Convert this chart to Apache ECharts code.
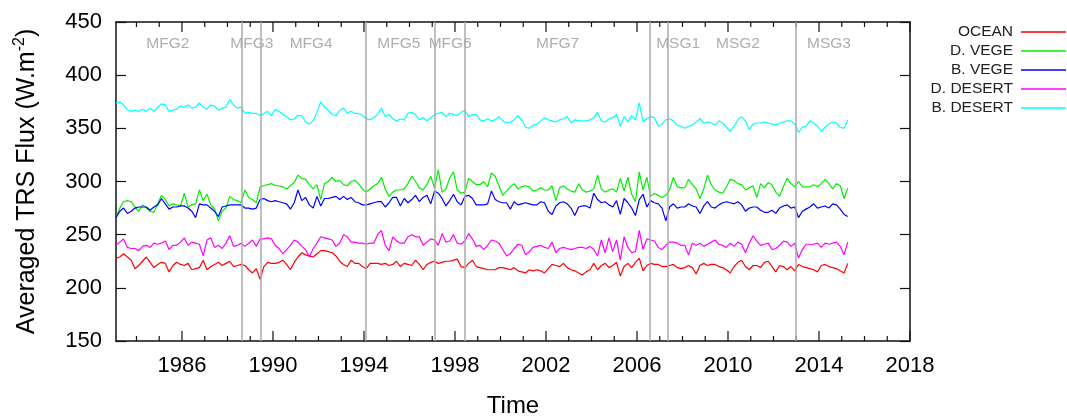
<!DOCTYPE html>
<html>
<head>
<meta charset="utf-8">
<script src="https://cdn.jsdelivr.net/npm/echarts@6/dist/echarts.min.js"></script>
<style>
  html, body { margin: 0; padding: 0; background: #ffffff; }
  #chart { width: 1067px; height: 416px; }
</style>
</head>
<body>
<div id="chart"></div>
<script>
// Time sampling: one value every two months, starting early 1983
const startYear = 1983.1;
const stepYears = 1 / 6;

const seriesNames = ['OCEAN', 'D. VEGE', 'B. VEGE', 'D. DESERT', 'B. DESERT'];

// Averaged TRS flux (W.m-2) per surface type
const ocean = [
  228,229,232,229,226,218,221,225,229,224,
  219,222,224,223,215,221,224,222,221,223,
  217,218,219,226,217,220,222,224,221,223,
  225,220,221,222,221,217,214,218,208,220,
  224,223,223,224,226,222,217,224,229,233,
  231,230,229,232,235,235,234,233,230,225,
  222,220,226,223,223,220,218,223,223,223,
  222,223,221,222,225,220,223,222,221,226,
  222,217,222,224,225,223,224,225,225,226,
  227,220,219,223,226,220,219,218,217,217,
  217,219,219,218,217,219,216,215,214,217,
  216,217,216,214,218,222,221,220,223,219,
  217,216,214,212,215,217,223,217,221,223,
  219,221,224,211,220,223,219,224,228,216,
  221,223,222,222,220,220,221,222,219,218,
  219,221,219,213,221,223,221,222,222,220,
  219,217,214,220,224,226,220,217,221,221,
  219,224,225,220,215,221,220,217,220,216,
  222,220,219,218,217,215,221,222,220,219,
  218,216,214,223
];

const denseVege = [
  266,275,281,282,281,276,272,278,275,272,
  271,279,287,283,277,279,278,277,289,276,
  278,279,292,282,288,278,274,263,272,275,
  286,283,282,280,292,285,283,280,295,296,
  297,298,296,296,295,293,296,299,306,303,
  302,297,293,297,283,298,300,304,300,301,
  297,296,300,301,298,293,290,293,296,298,
  304,293,286,290,292,292,293,298,305,300,
  294,292,297,305,294,311,290,293,303,309,
  292,289,290,303,300,297,297,300,295,308,
  305,296,287,291,295,298,293,295,296,295,
  291,292,294,292,292,296,282,294,296,293,
  291,290,298,292,290,291,293,306,293,290,
  292,293,290,303,291,304,288,281,309,292,
  304,286,289,287,285,287,292,304,295,294,
  294,302,297,293,284,293,306,297,292,290,
  289,295,302,301,298,297,292,294,296,285,
  298,294,299,297,290,286,295,303,298,295,
  300,295,295,295,297,295,298,302,298,293,
  298,296,284,294
];

const brightVege = [
  266,272,275,270,272,275,276,276,276,273,
  276,278,284,279,274,276,276,277,277,275,
  272,266,279,278,278,275,272,267,276,277,
  278,278,278,278,275,275,274,275,283,284,
  282,281,282,281,280,279,274,280,292,282,
  285,278,275,286,277,284,284,285,286,283,
  286,283,285,281,280,278,278,279,280,281,
  281,276,280,285,285,277,284,280,283,287,
  281,285,287,279,291,289,284,277,282,288,
  281,278,286,287,284,278,278,278,279,291,
  283,281,280,280,274,281,278,279,280,279,
  278,278,281,280,272,269,277,280,281,279,
  275,268,276,277,277,275,289,283,280,281,
  278,276,282,269,284,280,275,268,283,288,
  276,282,280,279,275,263,276,279,275,276,
  276,279,277,276,270,277,281,276,275,278,
  280,281,280,279,281,278,272,275,276,276,
  273,271,271,273,270,275,277,278,275,276,
  266,272,274,276,279,275,276,277,275,279,
  278,274,269,267
];

const denseDesert = [
  240,243,246,238,237,237,235,239,240,238,
  242,241,242,244,236,240,240,243,247,240,
  243,242,241,230,245,247,238,240,237,242,
  249,239,240,242,239,242,245,239,246,246,
  247,246,240,237,232,236,240,245,243,239,
  236,229,237,242,248,247,246,245,239,242,
  250,248,243,243,242,242,241,242,242,250,
  254,240,235,248,244,242,242,248,250,248,
  248,240,243,246,245,240,251,243,244,250,
  242,241,244,251,246,239,240,236,240,245,
  244,242,236,230,232,237,241,240,231,234,
  238,239,240,238,237,243,233,237,238,237,
  236,237,238,238,237,239,236,230,245,233,
  247,234,245,226,248,238,233,234,254,236,
  246,245,244,238,236,240,243,243,242,240,
  240,231,242,240,242,239,241,243,245,241,
  240,238,242,239,243,241,233,242,249,244,
  240,241,242,236,237,240,244,243,239,242,
  228,236,241,241,241,242,238,242,241,242,
  243,239,231,243
];

const brightDesert = [
  374,375,372,367,366,367,366,368,366,369,
  366,370,373,372,366,367,368,371,370,372,
  369,370,374,370,368,372,371,367,369,370,
  377,372,369,370,364,365,364,364,362,364,
  366,362,368,366,363,361,358,359,362,362,
  356,354,357,365,375,370,367,363,362,367,
  369,364,366,364,364,362,359,358,360,363,
  369,361,363,359,357,359,358,364,365,363,
  358,360,357,360,363,364,365,361,364,363,
  362,365,367,361,363,363,358,357,359,357,
  358,361,357,355,356,358,362,358,351,350,
  353,354,357,360,358,357,356,358,359,361,
  355,358,357,357,357,358,360,365,357,356,
  359,360,363,352,361,356,362,358,374,356,
  359,361,360,352,354,358,359,357,353,352,
  350,352,353,356,359,355,356,355,353,357,
  355,351,347,352,358,361,357,349,354,355,
  355,356,355,354,353,355,356,357,357,354,
  346,351,352,357,355,352,347,351,354,356,
  355,351,350,358
];

// Satellite periods and the dates where the instrument changes
const satellites = ['MFG2', 'MFG3', 'MFG4', 'MFG5', 'MFG6', 'MFG7', 'MSG1', 'MSG2', 'MSG3'];
const satelliteLabelYears = [1985.38, 1989.07, 1991.68, 1995.53, 1997.79, 2002.51, 2007.81, 2010.44, 2014.44];
const switchYears = [1988.64, 1989.48, 1994.08, 1997.12, 1998.42, 2006.56, 2007.34, 2013.0];

// Axis ticks: labelled years every 4 years, small ticks every year
const majorYearTicks = [1986, 1990, 1994, 1998, 2002, 2006, 2010, 2014, 2018];
const yearTicks = [];
for (let y = 1984; y <= 2018; y++) yearTicks.push(y);

const xMin = 1983.1, xMax = 2018;
const yMin = 150, yMax = 450;
const FONT = '"Liberation Sans", Arial, sans-serif';
const AXIS_COLOR = '#111';

function toPairs(values) {
  return values.map((v, i) => [startYear + i * stepYears, v]);
}

const seriesValues = [ocean, denseVege, brightVege, denseDesert, brightDesert];
const seriesColors = ['#ff0000', '#00ee00', '#0000ff', '#ff00ff', '#00ffff'];

function xAxisDef(position, withLabels) {
  return {
    type: 'value', min: xMin, max: xMax, position: position,
    axisLine: { show: true, onZero: false, lineStyle: { color: AXIS_COLOR, width: 1.5 } },
    axisTick: { show: false },
    axisLabel: withLabels ? {
      show: true, customValues: majorYearTicks, formatter: v => String(v),
      fontSize: 22, color: '#000', margin: 14, fontFamily: FONT
    } : { show: false },
    splitLine: { show: false }
  };
}

const xAxes = [
  Object.assign(xAxisDef('bottom', true), {
    name: 'Time', nameLocation: 'middle', nameGap: 53,
    nameTextStyle: { fontSize: 24, color: '#000', fontFamily: FONT }
  }),
  xAxisDef('top', false)
];

const yAxes = [
  {
    type: 'value', min: yMin, max: yMax, interval: 50, position: 'left',
    axisLine: { show: true, onZero: false, lineStyle: { color: AXIS_COLOR, width: 1.5 } },
    axisTick: { show: true, inside: true, length: 10, lineStyle: { color: AXIS_COLOR, width: 1.2 } },
    axisLabel: { fontSize: 22, color: '#000', margin: 14, fontFamily: FONT },
    splitLine: { show: false },
    name: '{n|Averaged TRS Flux (W.m}{s|-2}{n|)}',
    nameLocation: 'middle', nameRotate: 90, nameGap: 74,
    nameTextStyle: {
      rich: {
        n: { fontSize: 25, color: '#000', fontFamily: FONT, lineHeight: 30 },
        s: { fontSize: 16, color: '#000', fontFamily: FONT, verticalAlign: 'top', lineHeight: 30 }
      }
    }
  },
  {
    type: 'value', min: yMin, max: yMax, interval: 50, position: 'right',
    axisLine: { show: true, onZero: false, lineStyle: { color: AXIS_COLOR, width: 1.5 } },
    axisTick: { show: true, inside: true, length: 10, lineStyle: { color: AXIS_COLOR, width: 1.2 } },
    axisLabel: { show: false },
    splitLine: { show: false }
  }
];

const lineSeries = seriesNames.map((name, k) => ({
  name: name,
  type: 'line',
  xAxisIndex: 0, yAxisIndex: 0,
  data: toPairs(seriesValues[k]),
  symbol: 'none', showSymbol: false,
  lineStyle: { color: seriesColors[k], width: 1.2 },
  itemStyle: { color: seriesColors[k] },
  z: 3, silent: true
}));

// Inward year ticks on the bottom and top borders (long on labelled years)
const yearTickSeries = {
  name: 'yearTicks',
  type: 'custom',
  xAxisIndex: 0, yAxisIndex: 0,
  silent: true, clip: false, z: 4,
  data: yearTicks.map(y => [y, majorYearTicks.indexOf(y) >= 0 ? 1 : 0]),
  encode: { x: 0 },
  renderItem: function (params, api) {
    const year = api.value(0);
    const len = api.value(1) ? 10 : 5;
    const bottom = api.coord([year, yMin]);
    const top = api.coord([year, yMax]);
    const style = { stroke: AXIS_COLOR, lineWidth: 1.2 };
    return {
      type: 'group',
      children: [
        { type: 'line', shape: { x1: bottom[0], y1: bottom[1], x2: bottom[0], y2: bottom[1] - len }, style: style },
        { type: 'line', shape: { x1: top[0], y1: top[1], x2: top[0], y2: top[1] + len }, style: style }
      ]
    };
  }
};

// Satellite names along the top, and grey lines at instrument changes
const satelliteSeries = {
  name: 'satellites',
  type: 'scatter',
  xAxisIndex: 0, yAxisIndex: 0,
  symbolSize: 0,
  silent: true,
  z: 2,
  data: satelliteLabelYears.map((x, i) => ({ value: [x, 430], name: satellites[i] })),
  label: {
    show: true, position: 'inside', formatter: p => p.name,
    color: '#999999', fontSize: 15.5, fontFamily: FONT
  },
  markLine: {
    silent: true,
    symbol: ['none', 'none'],
    label: { show: false },
    lineStyle: { color: '#aaaaaa', width: 1.5, type: 'solid' },
    emphasis: { disabled: true },
    data: switchYears.map(x => ({ xAxis: x }))
  }
};

const chart = echarts.init(document.getElementById('chart'), null, { renderer: 'canvas' });
chart.setOption({
  animation: false,
  backgroundColor: '#ffffff',
  grid: { left: 116, right: 157, top: 22, bottom: 75, containLabel: false, outerBoundsMode: 'none' },
  legend: {
    data: seriesNames.map(n => ({ name: n, icon: 'rect' })),
    orient: 'vertical', right: 1, top: 24, align: 'right', padding: 0,
    itemWidth: 45, itemHeight: 1.6, itemGap: 3,
    selectedMode: false,
    textStyle: { fontSize: 15.5, color: '#222', fontFamily: FONT, lineHeight: 15, padding: [0, 3, 0, 0] }
  },
  xAxis: xAxes,
  yAxis: yAxes,
  series: lineSeries.concat([yearTickSeries, satelliteSeries])
});
</script>
</body>
</html>
